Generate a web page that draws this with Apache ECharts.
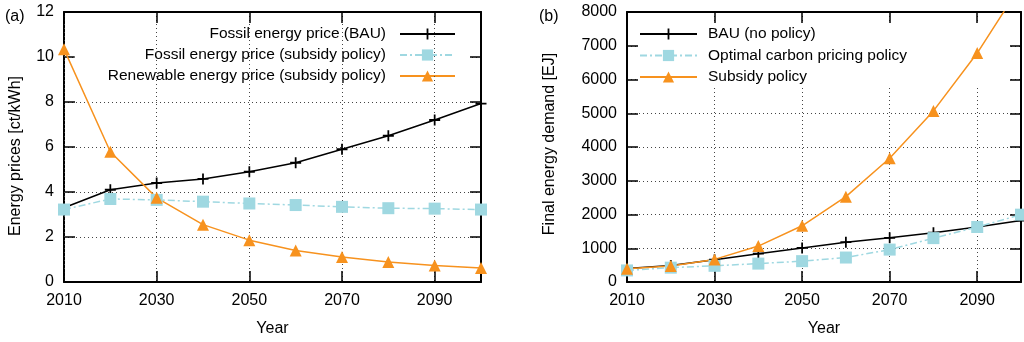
<!DOCTYPE html>
<html><head><meta charset="utf-8">
<script src="https://cdn.jsdelivr.net/npm/echarts@6/dist/echarts.min.js"></script>
<style>html,body{margin:0;padding:0;background:#fff}#c{width:1024px;height:342px}</style>
</head><body><div id="c"></div>
<script>
// ---- data ----
const years = [2010, 2020, 2030, 2040, 2050, 2060, 2070, 2080, 2090, 2100];
// panel (a): energy prices [ct/kWh]
const fossilBAU = [3.3, 4.1, 4.4, 4.58, 4.9, 5.3, 5.9, 6.5, 7.2, 7.93];
const fossilSubsidy = [3.22, 3.69, 3.65, 3.57, 3.49, 3.42, 3.34, 3.28, 3.26, 3.22];
const renewableSubsidy = [10.35, 5.79, 3.74, 2.55, 1.86, 1.4, 1.11, 0.89, 0.73, 0.62];
// panel (b): final energy demand [EJ]
const demandBAU = [400, 490, 660, 840, 1010, 1180, 1310, 1460, 1630, 1820];
const demandCarbon = [343, 425, 480, 545, 618, 725, 960, 1300, 1630, 1995];
const demandSubsidy = [390, 475, 670, 1065, 1666, 2529, 3667, 5069, 6784, 8800];
const namesA = ['Fossil energy price (BAU)', 'Fossil energy price (subsidy policy)', 'Renewable energy price (subsidy policy)'];
const namesB = ['BAU (no policy)', 'Optimal carbon pricing policy', 'Subsidy policy'];

const FONT = 'Liberation Sans';
const FS = 16;
const FSL = 15.5;
const BLACK = '#000000', BLUE = '#9fd8e1', ORANGE = '#f7921e';
const PLUS = 'path://M4.2,0 H5.8 V4.2 H10 V5.8 H5.8 V10 H4.2 V5.8 H0 V4.2 H4.2 Z';

const pairs = arr => years.map((y, i) => [y, arr[i]]);

function xAxes(g, zMain) {
  const common = {
    type: 'value', gridIndex: g, min: 2010, max: 2100, interval: 20,
    axisLine: { onZero: false, lineStyle: { color: BLACK, width: 2 } },
    axisTick: { inside: true, length: 11, lineStyle: { color: BLACK, width: 1.5 } }
  };
  return [
    Object.assign({}, common, {
      position: 'bottom', z: zMain,
      axisLabel: { margin: 11, fontSize: FS, fontFamily: FONT, color: BLACK, showMaxLabel: false,
        formatter: v => (v === 2100 ? '' : String(v)) },
      splitLine: { show: true, lineStyle: { color: '#444', width: 1, type: [1, 3] } },
      name: 'Year', nameLocation: 'middle', nameGap: 39,
      nameTextStyle: { fontSize: FS, fontFamily: FONT, color: BLACK }
    }),
    Object.assign({}, common, {
      position: 'top', z: 3, axisLabel: { show: false }, splitLine: { show: false }
    })
  ];
}
function yAxes(g, max, interval, name, gap, pad) {
  const common = {
    type: 'value', gridIndex: g, min: 0, max: max, interval: interval,
    axisLine: { onZero: false, lineStyle: { color: BLACK, width: 2 } },
    axisTick: { inside: true, length: 11, lineStyle: { color: BLACK, width: 1.5 } }
  };
  return [
    Object.assign({}, common, {
      position: 'left', z: 0,
      axisLabel: { margin: 10, fontSize: FS, fontFamily: FONT, color: BLACK, formatter: v => String(v) },
      splitLine: { show: true, lineStyle: { color: '#444', width: 1, type: [1, 3] } },
      name: name, nameLocation: 'middle', nameGap: gap,
      nameTextStyle: { fontSize: FS, fontFamily: FONT, color: BLACK, padding: pad }
    }),
    Object.assign({}, common, {
      position: 'right', z: 3, axisLabel: { show: false }, splitLine: { show: false }
    })
  ];
}
function line(name, data, xi, yi, color, symbol, size, dash) {
  return {
    type: 'line', name: name, data: pairs(data), xAxisIndex: xi, yAxisIndex: yi,
    symbol: symbol, symbolSize: size, showAllSymbol: true, z: 5,
    lineStyle: { color: color, width: 1.5, type: dash || 'solid' },
    itemStyle: { color: color },
    emphasis: { disabled: true }, animation: false
  };
}

const chart = echarts.init(document.getElementById('c'), null, { renderer: 'canvas' });
chart.setOption({
  animation: false,
  textStyle: { fontFamily: FONT },
  title: [
    { text: '(a)', left: 0, top: 4, textStyle: { fontSize: FS, fontWeight: 'normal', color: BLACK, fontFamily: FONT } },
    { text: '(b)', left: 534, top: 4, textStyle: { fontSize: FS, fontWeight: 'normal', color: BLACK, fontFamily: FONT } }
  ],
  grid: [
    { left: 64, right: 543, top: 12, bottom: 58 },
    { left: 627, right: 3, top: 12, bottom: 58 }
  ],
  xAxis: [].concat(xAxes(0, 3), xAxes(1, 0)),
  yAxis: [].concat(
    yAxes(0, 12, 2, 'Energy prices [ct/kWh]', 40, [0, 18, 0, 0]),
    yAxes(1, 8000, 1000, 'Final energy demand [EJ]', 69, [0, 0, 0, 6])
  ),
  legend: [
    {
      data: namesA, orient: 'vertical', align: 'right', right: 555, top: 21,
      itemWidth: 55, itemHeight: 14, itemGap: 5, z: 1,
      backgroundColor: '#ffffff', padding: [5, 13, 3, 33], selectedMode: false,
      textStyle: { fontSize: FSL, fontFamily: FONT, color: BLACK, lineHeight: 14, padding: [0, 9, 0, 0] }
    },
    {
      data: namesB, orient: 'vertical', align: 'left', left: 638, top: 23,
      itemWidth: 57, itemHeight: 14, itemGap: 5.5, z: 1,
      backgroundColor: '#ffffff', padding: [3, 102, 3, 1], selectedMode: false,
      textStyle: { fontSize: FSL, fontFamily: FONT, color: BLACK, lineHeight: 14, padding: [0, 0, 0, 6] }
    }
  ],
  series: [
    line(namesA[0], fossilBAU, 0, 0, BLACK, PLUS, 11),
    line(namesA[1], fossilSubsidy, 0, 0, BLUE, 'rect', 12, [7, 3, 2, 3]),
    line(namesA[2], renewableSubsidy, 0, 0, ORANGE, 'triangle', 12),
    line(namesB[0], demandBAU, 2, 2, BLACK, PLUS, 11),
    line(namesB[1], demandCarbon, 2, 2, BLUE, 'rect', 12, [7, 3, 2, 3]),
    line(namesB[2], demandSubsidy, 2, 2, ORANGE, 'triangle', 12)
  ]
});
</script>
</body></html>
